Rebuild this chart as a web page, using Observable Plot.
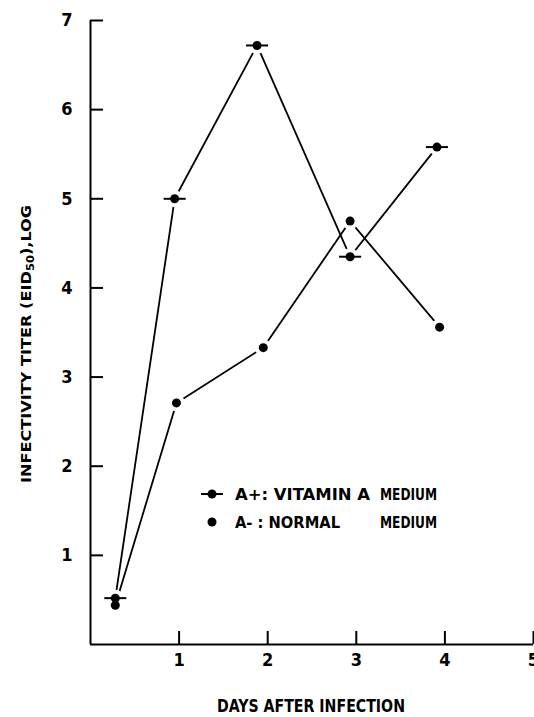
<!DOCTYPE html>
<html>
<head>
<meta charset="utf-8">
<script src="https://cdn.jsdelivr.net/npm/d3@7"></script>
<script src="https://cdn.jsdelivr.net/npm/@observablehq/plot@0.6"></script>
<style>
  html, body { margin: 0; padding: 0; background: #fff; }
  #chart { width: 534px; height: 717px; }
  #chart text { font-stretch: condensed; }
</style>
</head>
<body>
<div id="chart"></div>
<script>
// Data
const daysPlus   = [0.28, 0.95, 1.88, 2.93, 3.91];
const titerPlus  = [0.52, 5.00, 6.72, 4.35, 5.58];
const daysMinus  = [0.28, 0.97, 1.95, 2.93, 3.94];
const titerMinus = [0.44, 2.71, 3.33, 4.75, 3.56];
const xTicks = [1, 2, 3, 4, 5];
const yTicks = [1, 2, 3, 4, 5, 6, 7];
const xDomain = [0, 5];
const yDomain = [0, 7];
const xTitle = "DAYS AFTER INFECTION";
const legendPlus = "A+: VITAMIN A";
const legendMinus = "A- : NORMAL";
const legendTail = "MEDIUM";

const plus = daysPlus.map((d, i) => ({day: d, titer: titerPlus[i], series: "A+"}));
const minus = daysMinus.map((d, i) => ({day: d, titer: titerMinus[i], series: "A-"}));
const all = plus.concat(minus);

const FONT = "'DejaVu Sans Condensed', 'DejaVu Sans', sans-serif";

const W = 534, H = 717, ML = 90, MR = 1, MT = 20, MB = 73;
const TICK = 13; // px
const xTickLen = TICK * (xDomain[1] - xDomain[0]) / (W - ML - MR);
const yTickLen = TICK * (yDomain[1] - yDomain[0]) / (H - MT - MB);

// custom symbol: horizontal bar through the marker
const hbar = {
  draw(context, size) {
    const w = Math.sqrt(size / Math.PI) * 2.45;
    context.moveTo(-w, 0);
    context.lineTo(w, 0);
  }
};

const plot = Plot.plot({
  width: W,
  height: H,
  marginLeft: ML,
  marginRight: MR,
  marginTop: MT,
  marginBottom: MB,
  x: {domain: xDomain},
  y: {domain: yDomain},
  style: {fontFamily: FONT, background: "#fff", color: "#000"},
  marks: [
    Plot.ruleX([xDomain[0]], {y1: yDomain[0], y2: yDomain[1], stroke: "#000", strokeWidth: 2}),
    Plot.ruleY([yDomain[0]], {x1: xDomain[0], x2: xDomain[1], stroke: "#000", strokeWidth: 2}),
    Plot.ruleX(xTicks, {x: d => d, y1: yDomain[0], y2: yDomain[0] + yTickLen, stroke: "#000", strokeWidth: 2}),
    Plot.ruleY(yTicks, {y: d => d, x1: xDomain[0], x2: xDomain[0] + xTickLen, stroke: "#000", strokeWidth: 2}),
    Plot.axisX({ticks: xTicks, tickFormat: "d", tickSize: 0, tickPadding: 9, fontSize: 18, fontWeight: "bold", label: null}),
    Plot.axisY({ticks: yTicks, tickFormat: "d", tickSize: 0, tickPadding: 18, fontSize: 18, fontWeight: "bold", label: null}),
    Plot.line(plus, {x: "day", y: "titer", stroke: "#000", strokeWidth: 1.8}),
    Plot.line(minus, {x: "day", y: "titer", stroke: "#000", strokeWidth: 1.8}),
    Plot.dot(all, {x: "day", y: "titer", r: 8.5, fill: "#fff", stroke: "none"}),
    Plot.dot(all, {x: "day", y: "titer", r: 4.5, fill: "#000", stroke: "none"}),
    Plot.dot(plus, {x: "day", y: "titer", r: 4.5, symbol: hbar, fill: "none", stroke: "#000", strokeWidth: 2})
  ]
});

document.getElementById("chart").appendChild(plot);

const svg = d3.select(plot);

function label(g, x, y, size, len, txt) {
  return g.append("text")
    .attr("x", x).attr("y", y)
    .attr("text-anchor", "start")
    .attr("font-family", FONT).attr("font-weight", "bold").attr("font-size", size)
    .attr("textLength", len).attr("lengthAdjust", "spacingAndGlyphs")
    .text(txt);
}

// x-axis title
label(svg, 217, 712, 18, 188, xTitle);

// y-axis title with subscript
const yt = svg.append("text")
  .attr("transform", "translate(31,483) rotate(-90)")
  .attr("text-anchor", "start")
  .attr("font-family", FONT).attr("font-weight", "bold").attr("font-size", 14)
  .attr("textLength", 278).attr("lengthAdjust", "spacingAndGlyphs");
yt.append("tspan").text("INFECTIVITY TITER (EID");
yt.append("tspan").attr("font-size", 10).attr("dy", 3).text("50");
yt.append("tspan").attr("dy", -3).text("),LOG");

// legend
const lg = svg.append("g");
lg.append("line").attr("x1", 201).attr("x2", 223).attr("y1", 494).attr("y2", 494)
  .attr("stroke", "#000").attr("stroke-width", 2);
lg.append("circle").attr("cx", 212).attr("cy", 494).attr("r", 4.5).attr("fill", "#000");
lg.append("circle").attr("cx", 212).attr("cy", 522).attr("r", 4.5).attr("fill", "#000");
label(lg, 235, 500, 16, 135, legendPlus);
label(lg, 380, 500, 16, 57, legendTail);
label(lg, 235, 528, 16, 105, legendMinus);
label(lg, 380, 528, 16, 57, legendTail);
</script>
</body>
</html>
